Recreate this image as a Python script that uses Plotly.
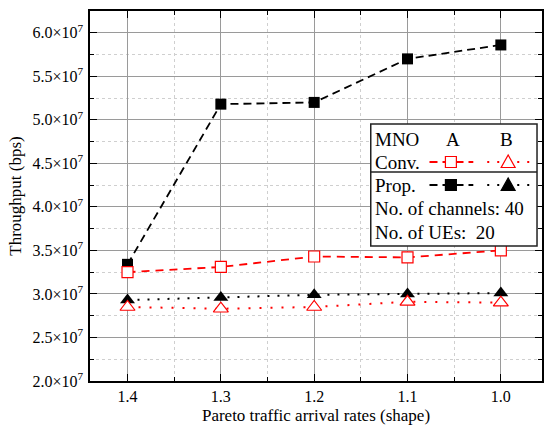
import plotly.graph_objects as go

# Pareto shape parameter (x) and throughput in bps for each scheme / MNO
shape = [1.4, 1.3, 1.2, 1.1, 1.0]
prop_a = [3.34e7, 5.18e7, 5.20e7, 5.70e7, 5.86e7]
prop_b = [2.93e7, 2.96e7, 2.99e7, 3.00e7, 3.01e7]
conv_a = [3.25e7, 3.31e7, 3.43e7, 3.42e7, 3.50e7]
conv_b = [2.85e7, 2.83e7, 2.85e7, 2.91e7, 2.90e7]

x_ticks = [1.4, 1.3, 1.2, 1.1, 1.0]
x_tick_text = ["1.4", "1.3", "1.2", "1.1", "1.0"]
x_minor = [1.35, 1.25, 1.15, 1.05]
y_ticks = [2.0e7, 2.5e7, 3.0e7, 3.5e7, 4.0e7, 4.5e7, 5.0e7, 5.5e7, 6.0e7]
y_tick_text = ["%.1f×10<sup>7</sup>" % (v / 1e7) for v in y_ticks]
y_minor = [v + 0.25e7 for v in y_ticks]

legend_rows = ["MNO", "Conv.", "Prop.", "No. of channels: 40", "No. of UEs:  20"]

FONT = "Liberation Serif"
W, H = 545, 440
L, R, T, B = 90, 1, 11, 59
PW, PH = W - L - R, H - T - B

RED = "#ff0000"
BLACK = "#000000"

fig = go.Figure()

fig.add_trace(go.Scatter(
    x=shape, y=prop_a, mode="lines+markers",
    line=dict(color=BLACK, width=1.8, dash="8px,5px"),
    marker=dict(symbol="square", size=11, color=BLACK),
))
fig.add_trace(go.Scatter(
    x=shape, y=prop_b, mode="lines+markers",
    line=dict(color=BLACK, width=2, dash="2px,8px"),
    marker=dict(symbol="triangle-up", size=13, color=BLACK),
))
fig.add_trace(go.Scatter(
    x=shape, y=conv_a, mode="lines+markers",
    line=dict(color=RED, width=1.8, dash="8px,6px"),
    marker=dict(symbol="square", size=11, color="white",
                line=dict(color=RED, width=1.2)),
))
fig.add_trace(go.Scatter(
    x=shape, y=conv_b, mode="lines+markers",
    line=dict(color=RED, width=2, dash="2px,9px"),
    marker=dict(symbol="triangle-up", size=13, color="white",
                line=dict(color=RED, width=1.2)),
))


def px(x):
    return (x - L) / PW


def py(y):
    return (H - B - y) / PH


shapes = []
annotations = []

# legend panel
bx0, bx1, by0, by1 = 372, 539, 124, 246
shapes.append(dict(type="rect", xref="paper", yref="paper", layer="above",
                   x0=px(bx0), x1=px(bx1), y0=py(by1), y1=py(by0),
                   fillcolor="white", line=dict(color="#222", width=1.5)))
shapes.append(dict(type="line", xref="paper", yref="paper", layer="above",
                   x0=px(bx0), x1=px(bx1), y0=py(172), y1=py(172),
                   line=dict(color="#222", width=1.5)))

row_y = [139, 162, 185, 208.5, 232]
for txt, yy in zip(legend_rows, row_y):
    annotations.append(dict(text=txt, xref="paper", yref="paper",
                            x=px(374), y=py(yy), xanchor="left", yanchor="middle",
                            showarrow=False, font=dict(family=FONT, size=19, color="black")))
for txt, xx in (("A", 455), ("B", 508)):
    annotations.append(dict(text=txt, xref="paper", yref="paper",
                            x=px(xx), y=py(row_y[0]), xanchor="center", yanchor="middle",
                            showarrow=False, font=dict(family=FONT, size=19, color="black")))


def sample(yy, color, filled):
    # dashed segment with square (MNO A), dotted segment with triangle (MNO B)
    shapes.append(dict(type="line", xref="paper", yref="paper", layer="above",
                       x0=px(431), x1=px(475), y0=py(yy), y1=py(yy),
                       line=dict(color=color, width=1.8, dash="8px,5px")))
    shapes.append(dict(type="line", xref="paper", yref="paper", layer="above",
                       x0=px(489), x1=px(533), y0=py(yy), y1=py(yy),
                       line=dict(color=color, width=2, dash="2px,8px")))
    fill = color if filled else "white"
    s = 5.5
    cx = 452.5
    shapes.append(dict(type="rect", xref="paper", yref="paper", layer="above",
                       x0=px(cx - s), x1=px(cx + s), y0=py(yy + s), y1=py(yy - s),
                       fillcolor=fill, line=dict(color=color, width=1.2)))
    tx = 510
    path = "M %f,%f L %f,%f L %f,%f Z" % (
        px(tx - 7), py(yy + 5.5), px(tx + 7), py(yy + 5.5), px(tx), py(yy - 7))
    shapes.append(dict(type="path", xref="paper", yref="paper", layer="above",
                       path=path, fillcolor=fill, line=dict(color=color, width=1.2)))


sample(row_y[1], RED, False)
sample(row_y[2], BLACK, True)

axis_common = dict(
    showline=True, linecolor="black", linewidth=1.5, mirror="ticks",
    ticks="inside", ticklen=7, tickwidth=1.3, tickcolor="black",
    showgrid=True, gridcolor="#9a9a9a", gridwidth=1,
    zeroline=False,
    tickfont=dict(family=FONT, size=16, color="black"),
)

fig.update_layout(
    width=W, height=H,
    margin=dict(l=L, r=R, t=T, b=B),
    paper_bgcolor="white", plot_bgcolor="white",
    showlegend=False,
    shapes=shapes, annotations=annotations,
    xaxis=dict(
        **axis_common,
        range=[1.4402, 0.9559],
        tickmode="array", tickvals=x_ticks, ticktext=x_tick_text,
        ticklabelstandoff=0,
        minor=dict(tickmode="array", tickvals=x_minor, ticks="inside", ticklen=4,
                   tickcolor="black", showgrid=True, gridcolor="#cfcfcf",
                   griddash="dot", gridwidth=1),
        title=dict(text="Pareto traffic arrival rates (shape)",
                   font=dict(family=FONT, size=17, color="black"), standoff=5),
    ),
    yaxis=dict(
        **axis_common,
        range=[2.0e7, 6.25e7],
        tickmode="array", tickvals=y_ticks, ticktext=y_tick_text,
        ticklabelstandoff=2,
        minor=dict(tickmode="array", tickvals=y_minor, ticks="inside", ticklen=4,
                   tickcolor="black", showgrid=True, gridcolor="#cfcfcf",
                   griddash="dot", gridwidth=1),
        title=dict(text="Throughput (bps)",
                   font=dict(family=FONT, size=17, color="black"), standoff=6),
    ),
)

fig.write_html("out.html")
